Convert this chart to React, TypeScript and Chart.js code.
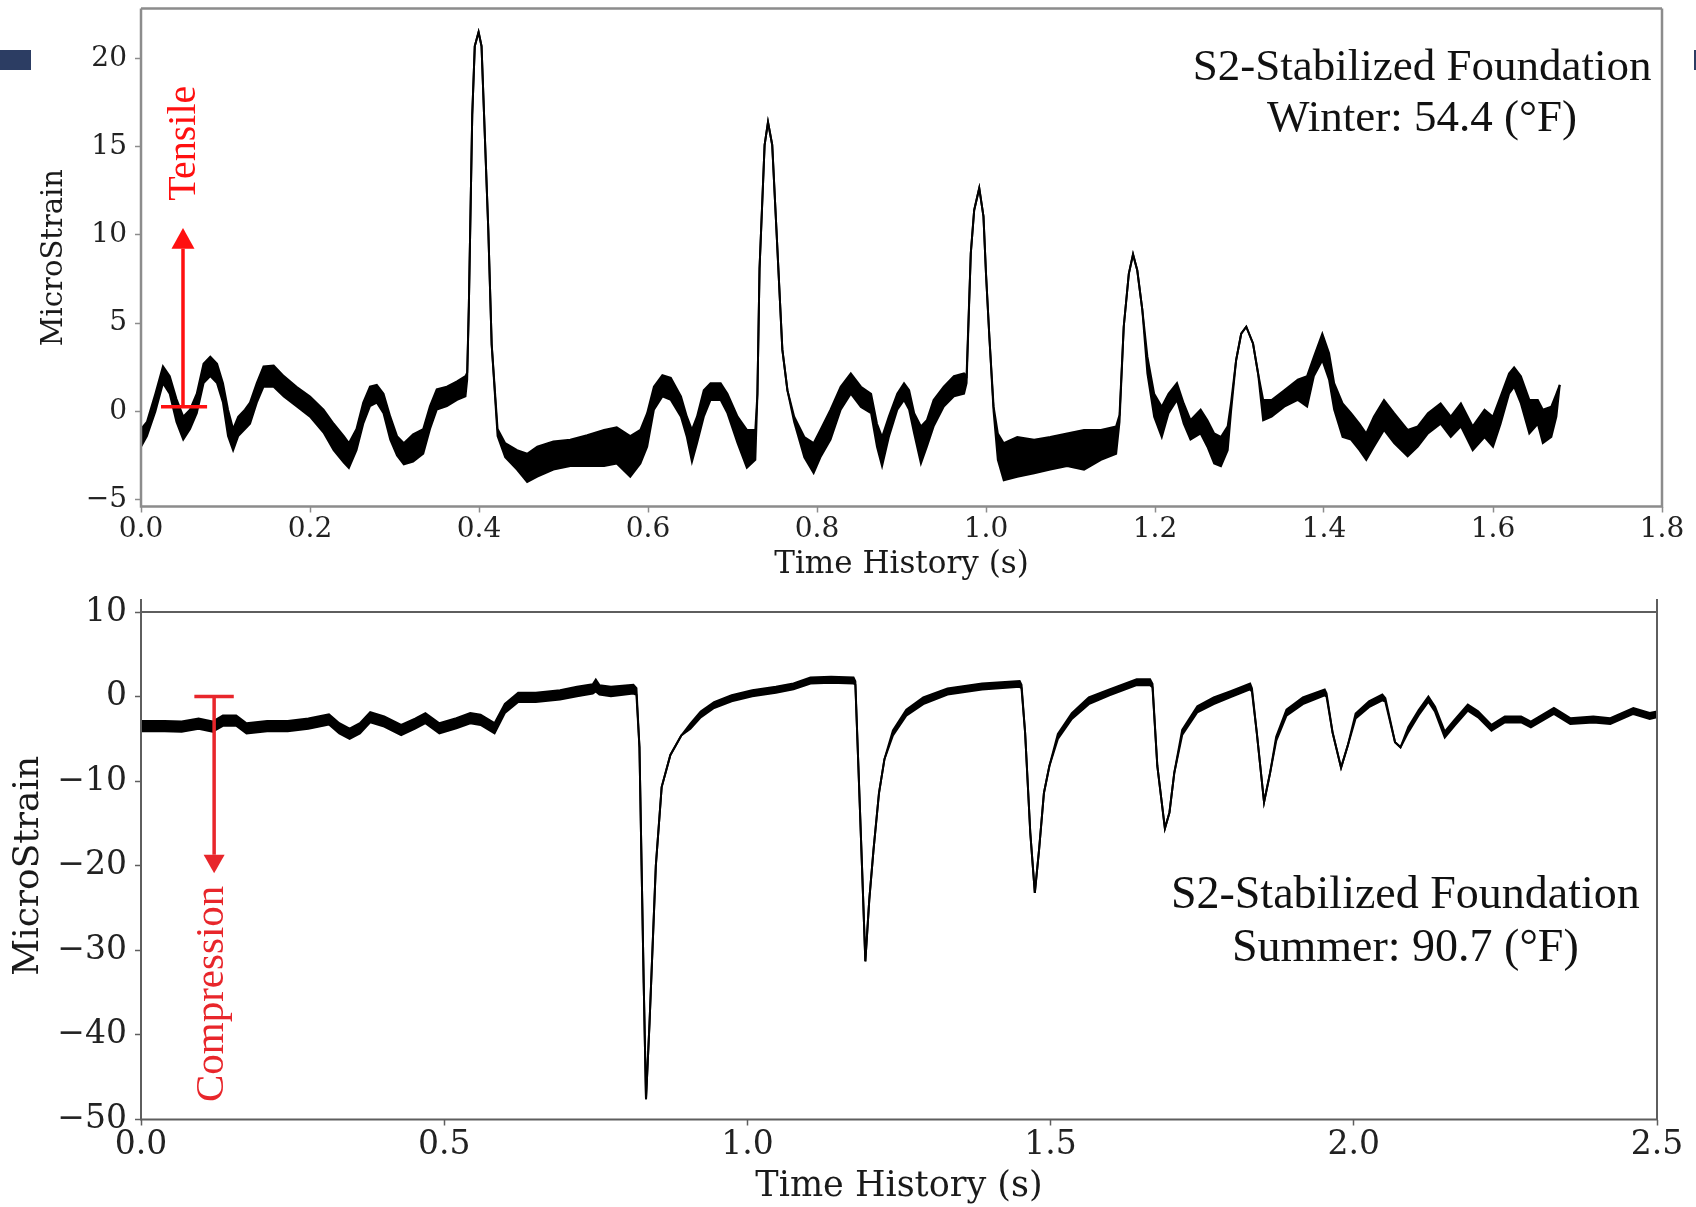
import React, { useEffect, useRef } from 'react';
import { Chart, registerables } from 'chart.js';

Chart.register(...registerables);

// ---------- Top panel (Winter) : envelope of the noisy strain trace ----------
const TOP_T = [
  0.000, 0.007, 0.017, 0.026, 0.034, 0.042, 0.050, 0.058, 0.066, 0.074, 0.082, 0.090, 0.097, 0.103, 0.109,
  0.115, 0.123, 0.129, 0.137, 0.145, 0.157, 0.169, 0.184, 0.200, 0.216, 0.228, 0.240, 0.246, 0.255, 0.263,
  0.271, 0.279, 0.287, 0.295, 0.303, 0.311, 0.322, 0.334, 0.342, 0.350, 0.362, 0.374, 0.384, 0.386, 0.388,
  0.392, 0.395, 0.3995, 0.403, 0.406, 0.411, 0.415, 0.422, 0.431, 0.445, 0.457, 0.469, 0.488, 0.508, 0.528,
  0.548, 0.563, 0.579, 0.591, 0.599, 0.607, 0.617, 0.627, 0.639, 0.646, 0.652, 0.658, 0.666, 0.674, 0.686,
  0.694, 0.706, 0.717, 0.727, 0.7295, 0.732, 0.738, 0.742, 0.747, 0.752, 0.759, 0.765, 0.773, 0.785, 0.796,
  0.804, 0.816, 0.828, 0.840, 0.852, 0.864, 0.871, 0.877, 0.885, 0.895, 0.903, 0.909, 0.915, 0.923, 0.930,
  0.938, 0.950, 0.962, 0.974, 0.977, 0.982, 0.986, 0.992, 0.997, 1.000, 1.004, 1.009, 1.014, 1.021, 1.037,
  1.057, 1.076, 1.096, 1.116, 1.136, 1.154, 1.158, 1.163, 1.169, 1.174, 1.179, 1.185, 1.191, 1.199, 1.208,
  1.216, 1.226, 1.234, 1.242, 1.254, 1.262, 1.270, 1.278, 1.286, 1.290, 1.296, 1.302, 1.308, 1.316, 1.322,
  1.328, 1.338, 1.353, 1.369, 1.380, 1.388, 1.398, 1.406, 1.412, 1.422, 1.432, 1.442, 1.450, 1.459, 1.471,
  1.483, 1.499, 1.511, 1.523, 1.538, 1.550, 1.562, 1.576, 1.590, 1.600, 1.609, 1.619, 1.625, 1.633, 1.643,
  1.653, 1.659, 1.669, 1.675, 1.679,
];
const TOP_HI = [
  -1.0, -0.6, 1.0, 2.55, 2.0, 0.7, -0.3, 0.1, 1.0, 2.7, 3.1, 2.7, 1.6, 0.1, -1.0,
  -0.3, 0.1, 0.5, 1.6, 2.55, 2.6, 2.0, 1.4, 0.85, 0.1, -0.7, -1.4, -1.8, -1.0, 0.5,
  1.4, 1.5, 1.0, -0.3, -1.4, -1.8, -1.3, -1.0, 0.3, 1.25, 1.4, 1.7, 2.0, 2.2, 6.0,
  16.8, 20.7, 21.5, 20.7, 16.8, 10.3, 3.8, -1.0, -1.8, -2.2, -2.4, -2.0, -1.7, -1.6, -1.35,
  -1.05, -0.9, -1.4, -1.05, -0.1, 1.4, 2.05, 1.9, 0.85, -0.3, -1.05, -0.3, 1.2, 1.6, 1.6,
  1.0, -0.3, -1.05, -1.05, 1.0, 8.1, 15.1, 16.4, 15.1, 10.3, 3.5, 1.2, -0.3, -1.45, -1.8,
  -1.05, 0.1, 1.4, 2.15, 1.4, 1.0, -0.7, -1.45, -0.3, 1.0, 1.6, 1.2, -0.1, -0.85, -0.5,
  0.65, 1.4, 2.0, 2.15, 2.0, 8.96, 11.4, 12.65, 11.05, 7.8, 4.2, 0.27, -1.25, -1.8, -1.45,
  -1.6, -1.45, -1.25, -1.05, -1.05, -0.85, -0.2, 4.8, 7.8, 8.9, 8.0, 5.75, 3.1, 1.0, 0.27,
  1.0, 1.6, 0.45, -0.5, 0.1, -0.5, -1.25, -1.45, -0.85, 0.5, 2.9, 4.4, 4.8, 3.85, 2.15,
  0.65, 0.65, 1.2, 1.8, 2.0, 3.1, 4.4, 3.3, 1.6, 0.45, -0.1, -0.7, -1.25, -0.3, 0.65,
  -0.1, -1.05, -0.85, -0.1, 0.45, -0.3, 0.45, -0.85, 0.1, -0.3, 0.85, 2.15, 2.5, 2.0, 0.65,
  0.65, 0.1, 0.27, 1.0, 1.5,
];
const TOP_LO = [
  -2.0, -1.4, 0.0, 1.6, 1.0, -0.6, -1.6, -1.0, -0.1, 1.6, 2.0, 1.6, 0.5, -1.4, -2.2,
  -1.4, -1.0, -0.7, 0.5, 1.4, 1.4, 0.85, 0.3, -0.3, -1.2, -2.2, -2.9, -3.2, -2.2, -0.7,
  0.3, 0.5, -0.1, -1.6, -2.5, -3.0, -2.85, -2.4, -1.0, 0.1, 0.3, 0.65, 0.85, 1.8, 6.0,
  16.8, 20.7, 21.5, 20.7, 16.8, 10.3, 3.8, -1.4, -2.6, -3.3, -4.0, -3.7, -3.3, -3.1, -3.1,
  -3.1, -2.95, -3.7, -2.95, -2.0, 0.1, 0.85, 0.65, -0.3, -1.45, -2.85, -1.8, -0.3, 0.65, 0.65,
  -0.1, -1.8, -3.2, -2.75, 1.0, 8.1, 15.1, 16.4, 15.1, 10.3, 3.5, 1.2, -0.6, -2.6, -3.5,
  -2.6, -1.6, 0.1, 1.0, 0.25, -0.1, -2.0, -3.1, -1.45, 0.1, 0.65, 0.1, -1.25, -2.95, -2.0,
  -0.85, 0.27, 0.85, 1.0, 1.6, 8.96, 11.4, 12.65, 11.05, 7.8, 4.2, 0.0, -2.75, -3.9, -3.7,
  -3.5, -3.3, -3.1, -3.3, -2.75, -2.4, -0.6, 4.8, 7.8, 8.9, 8.0, 5.75, 2.15, -0.3, -1.45,
  -0.1, 0.65, -0.7, -1.6, -1.25, -2.0, -2.95, -3.1, -2.2, 0.0, 2.9, 4.4, 4.8, 3.85, 2.15,
  -0.5, -0.3, 0.27, 0.65, 0.27, 2.0, 2.9, 1.8, 0.1, -1.45, -1.6, -2.2, -2.75, -2.0, -1.05,
  -1.8, -2.55, -2.0, -1.25, -0.7, -1.45, -0.85, -2.2, -1.45, -2.0, -0.7, 1.0, 1.4, 0.45, -1.25,
  -0.7, -1.8, -1.45, -0.3, 1.5,
];
const TOP_XTICKS = [0, 0.2, 0.4, 0.6, 0.8, 1.0, 1.2, 1.4, 1.6, 1.8];
const TOP_YTICKS = [-5, 0, 5, 10, 15, 20];
const TOP_NOTE = ['S2-Stabilized Foundation', 'Winter: 54.4 (°F)'];

// ---------- Bottom panel (Summer) ----------
const BOT_T = [
  0.000, 0.039, 0.067, 0.095, 0.118, 0.135, 0.157, 0.174, 0.208, 0.242, 0.276, 0.310, 0.327, 0.344, 0.361,
  0.378, 0.401, 0.429, 0.452, 0.469, 0.492, 0.520, 0.543, 0.560, 0.583, 0.600, 0.622, 0.651, 0.691, 0.719,
  0.745, 0.750, 0.756, 0.775, 0.812, 0.817, 0.822, 0.8255, 0.829, 0.8328, 0.8386, 0.8438, 0.849, 0.8586, 0.873,
  0.891, 0.906, 0.923, 0.945, 0.974, 1.008, 1.047, 1.076, 1.104, 1.138, 1.175, 1.178, 1.183, 1.189, 1.1945,
  1.201, 1.208, 1.217, 1.226, 1.240, 1.262, 1.290, 1.330, 1.387, 1.449, 1.452, 1.458, 1.4665, 1.474, 1.481,
  1.489, 1.498, 1.512, 1.535, 1.563, 1.597, 1.642, 1.664, 1.668, 1.676, 1.6885, 1.696, 1.704, 1.717, 1.742,
  1.769, 1.797, 1.829, 1.832, 1.840, 1.852, 1.862, 1.872, 1.889, 1.916, 1.952, 1.955, 1.965, 1.979, 1.990,
  2.003, 2.025, 2.047, 2.052, 2.068, 2.077, 2.090, 2.107, 2.123, 2.134, 2.150, 2.166, 2.188, 2.205, 2.227,
  2.249, 2.276, 2.292, 2.330, 2.357, 2.395, 2.423, 2.461, 2.488, 2.500,
];
const BOT_HI = [
  -2.9, -2.9, -2.95, -2.6, -2.95, -2.25, -2.25, -3.15, -2.9, -2.9, -2.6, -2.1, -3.15, -3.8, -3.15,
  -1.85, -2.35, -3.35, -2.6, -1.95, -3.15, -2.55, -1.95, -2.15, -3.15, -0.85, 0.45, 0.45, 0.75, 1.15,
  1.45, 2.0, 1.35, 1.15, 1.4, 1.0, -6.0, -20.0, -33.9, -47.6, -38.6, -29.3, -20.0, -10.7, -6.9,
  -4.6, -3.2, -1.75, -0.65, 0.15, 0.75, 1.15, 1.55, 2.25, 2.35, 2.25, 1.8, -8.2, -20.1, -31.3,
  -24.0, -18.1, -11.4, -7.4, -4.0, -1.55, -0.1, 0.95, 1.55, 1.85, 1.4, -4.3, -16.1, -23.2, -18.1,
  -11.4, -8.2, -4.4, -1.95, -0.1, 0.85, 2.05, 2.05, 1.5, -8.2, -15.6, -13.7, -9.0, -3.95, -1.15,
  -0.1, 0.65, 1.55, 1.0, -4.25, -12.5, -9.0, -4.75, -1.55, -0.1, 0.85, 0.4, -4.25, -8.4, -5.8,
  -2.0, -0.55, 0.25, -0.2, -5.4, -6.0, -3.6, -1.6, 0.0, -1.2, -4.15, -2.75, -0.95, -1.75, -3.35,
  -2.35, -2.35, -2.95, -1.35, -2.55, -2.35, -2.55, -1.35, -1.95, -1.75,
];
const BOT_LO = [
  -4.1, -4.1, -4.15, -3.8, -4.15, -3.45, -3.45, -4.35, -4.1, -4.1, -3.8, -3.3, -4.35, -5.0, -4.35,
  -3.05, -3.55, -4.55, -3.8, -3.15, -4.35, -3.75, -3.15, -3.35, -4.35, -1.95, -0.65, -0.65, -0.35, 0.05,
  0.35, 0.6, 0.25, 0.05, 0.35, 0.2, -6.0, -20.0, -33.9, -47.6, -38.6, -29.3, -20.0, -10.7, -6.9,
  -4.6, -3.8, -2.45, -1.35, -0.55, 0.05, 0.45, 0.85, 1.55, 1.65, 1.55, 1.4, -8.2, -20.1, -31.3,
  -24.0, -18.1, -11.4, -7.4, -4.6, -2.25, -0.9, 0.25, 0.85, 1.15, 1.0, -4.3, -16.1, -23.2, -18.1,
  -11.4, -8.2, -5.0, -2.65, -0.9, 0.15, 1.35, 1.35, 1.1, -8.2, -15.6, -13.7, -9.0, -4.55, -1.85,
  -0.9, -0.05, 0.85, 0.6, -4.25, -12.5, -9.0, -5.25, -2.25, -0.9, 0.15, 0.0, -4.25, -8.4, -5.8,
  -2.6, -1.25, -0.45, -0.6, -5.4, -6.0, -4.2, -2.2, -0.6, -1.8, -4.85, -3.45, -1.65, -2.45, -4.05,
  -3.05, -3.05, -3.65, -2.05, -3.25, -3.05, -3.25, -2.05, -2.65, -2.45,
];
const BOT_XTICKS = [0, 0.5, 1.0, 1.5, 2.0, 2.5];
const BOT_YTICKS = [-50, -40, -30, -20, -10, 0, 10];
const BOT_NOTE = ['S2-Stabilized Foundation', 'Summer: 90.7 (°F)'];

const fmtY = (v: number) => (v < 0 ? '\u2212' + Math.abs(v) : String(v));

type Panel = {
  t: number[]; hi: number[]; lo: number[];
  xMin: number; xMax: number; yMin: number; yMax: number;
  xTicks: number[]; yTicks: number[];
  padTop: number; padRight: number; yAxisW: number; xAxisH: number;
  tickSize: number; xTitleSize: number; xTitleLH: number; xTitlePad: number; yTitleSize: number; yTitlePad: number;
  frameColor: string; frameWidth: number; spineExt: number;
  note: string[]; noteX: number; noteY: number[]; noteSize: number;
  arrow: { x: number; y0: number; tip: number; base: number; barFrom: number; barTo: number; half: number; lw: number; color: string;
    label: string; lx: number; ly: number; lsize: number };
};

function decorPlugin(p: Panel) {
  return {
    id: 'decor',
    afterDatasetsDraw(chart: any) {
      const { ctx, chartArea: a, scales } = chart;
      const x = scales.x, y = scales.y;
      ctx.save();
      // frame (spines)
      ctx.strokeStyle = p.frameColor;
      ctx.lineWidth = p.frameWidth;
      ctx.beginPath();
      ctx.moveTo(a.left, a.top - p.spineExt); ctx.lineTo(a.left, a.bottom);
      ctx.lineTo(a.right, a.bottom); ctx.lineTo(a.right, a.top - p.spineExt);
      ctx.moveTo(a.left, a.top); ctx.lineTo(a.right, a.top);
      ctx.stroke();
      // red arrow annotation
      const ar = p.arrow;
      const ax = x.getPixelForValue(ar.x);
      const yb = y.getPixelForValue(ar.y0);
      const yt = y.getPixelForValue(ar.tip);
      const yh = y.getPixelForValue(ar.base);
      ctx.strokeStyle = ar.color;
      ctx.fillStyle = ar.color;
      ctx.lineWidth = ar.lw;
      ctx.beginPath();
      ctx.moveTo(ax, yb); ctx.lineTo(ax, yh);
      ctx.moveTo(x.getPixelForValue(ar.barFrom), yb); ctx.lineTo(x.getPixelForValue(ar.barTo), yb);
      ctx.stroke();
      ctx.beginPath();
      ctx.moveTo(ax, yt); ctx.lineTo(ax - ar.half, yh); ctx.lineTo(ax + ar.half, yh); ctx.closePath();
      ctx.fill();
      ctx.save();
      ctx.translate(x.getPixelForValue(ar.lx), y.getPixelForValue(ar.ly));
      ctx.rotate(-Math.PI / 2);
      ctx.font = `${ar.lsize}px "Liberation Serif"`;
      ctx.textAlign = 'center';
      ctx.textBaseline = 'middle';
      ctx.fillText(ar.label, 0, 0);
      ctx.restore();
      // panel note
      ctx.fillStyle = '#111';
      ctx.font = `${p.noteSize}px "Liberation Serif"`;
      ctx.textAlign = 'center';
      ctx.textBaseline = 'middle';
      p.note.forEach((s, i) => ctx.fillText(s, x.getPixelForValue(p.noteX), y.getPixelForValue(p.noteY[i])));
      ctx.restore();
    },
  };
}

function makeConfig(p: Panel): any {
  const grid = { display: true, drawOnChartArea: false, drawTicks: true, tickLength: 6, tickWidth: 1.5, tickColor: p.frameColor };
  return {
    type: 'line',
    data: {
      datasets: [
        { data: p.t.map((t, i) => ({ x: t, y: p.hi[i] })), borderColor: '#000', borderWidth: 2, pointRadius: 0, fill: false, tension: 0 },
        { data: p.t.map((t, i) => ({ x: t, y: p.lo[i] })), borderColor: '#000', borderWidth: 2, pointRadius: 0, fill: '-1', backgroundColor: '#000', tension: 0 },
      ],
    },
    options: {
      responsive: false,
      animation: false,
      events: [],
      layout: { padding: { left: 0, right: p.padRight, top: p.padTop, bottom: 0 } },
      plugins: { legend: { display: false }, tooltip: { enabled: false } },
      scales: {
        x: {
          type: 'linear', min: p.xMin, max: p.xMax,
          afterBuildTicks: (s: any) => { s.ticks = p.xTicks.map((v) => ({ value: v })); },
          afterFit: (s: any) => { s.height = p.xAxisH; s.paddingLeft = 0; s.paddingRight = 0; },
          ticks: { autoSkip: false, maxRotation: 0, padding: 0, color: '#222',
            font: { family: 'DejaVu Serif', size: p.tickSize, lineHeight: 1.2 },
            callback: (v: any) => Number(v).toFixed(1) },
          grid, border: { display: false },
          title: { display: true, text: 'Time History (s)', color: '#1a1a1a',
            font: { family: 'DejaVu Serif', size: p.xTitleSize, lineHeight: p.xTitleLH }, padding: { top: 0, bottom: p.xTitlePad } },
        },
        y: {
          type: 'linear', min: p.yMin, max: p.yMax,
          afterBuildTicks: (s: any) => { s.ticks = p.yTicks.map((v) => ({ value: v })); },
          afterFit: (s: any) => { s.width = p.yAxisW; s.paddingTop = 0; s.paddingBottom = 0; },
          ticks: { autoSkip: false, padding: 8, color: '#222',
            font: { family: 'DejaVu Serif', size: p.tickSize, lineHeight: 1.2 },
            callback: (v: any) => fmtY(Number(v)) },
          grid, border: { display: false },
          title: { display: true, text: 'MicroStrain', color: '#1a1a1a',
            font: { family: 'DejaVu Serif', size: p.yTitleSize, lineHeight: 1.2 }, padding: { top: p.yTitlePad, bottom: 0 } },
        },
      },
    },
    plugins: [decorPlugin(p)],
  };
}

const TOP_PANEL: Panel = {
  t: TOP_T, hi: TOP_HI, lo: TOP_LO,
  xMin: 0, xMax: 1.8, yMin: -5.39, yMax: 22.83,
  xTicks: TOP_XTICKS, yTicks: TOP_YTICKS,
  padTop: 8.6, padRight: 34, yAxisW: 141, xAxisH: 83.5,
  tickSize: 28, xTitleSize: 31, xTitleLH: 1.2, xTitlePad: 6, yTitleSize: 29, yTitlePad: 37,
  frameColor: '#8c8c8c', frameWidth: 2.5, spineExt: 0,
  note: TOP_NOTE, noteX: 1.516, noteY: [19.46, 16.57], noteSize: 45,
  arrow: { x: 0.0497, y0: 0.26, tip: 10.4, base: 9.22, barFrom: 0.0237, barTo: 0.0782, half: 11.5, lw: 3.5, color: '#ff1010',
    label: 'Tensile', lx: 0.052, ly: 15.2, lsize: 40 },
};

const BOT_PANEL: Panel = {
  t: BOT_T, hi: BOT_HI, lo: BOT_LO,
  xMin: 0, xMax: 2.5, yMin: -50, yMax: 10,
  xTicks: BOT_XTICKS, yTicks: BOT_YTICKS,
  padTop: 22, padRight: 39, yAxisW: 141, xAxisH: 87.5,
  tickSize: 33, xTitleSize: 35, xTitleLH: 1.0, xTitlePad: 3, yTitleSize: 36, yTitlePad: 7.4,
  frameColor: '#5e5e5e', frameWidth: 2, spineExt: 13,
  note: BOT_NOTE, noteX: 2.085, noteY: [-23.57, -29.79], noteSize: 46,
  arrow: { x: 0.1206, y0: 0, tip: -20.9, base: -18.7, barFrom: 0.088, barTo: 0.153, half: 10.5, lw: 3.5, color: '#e8262b',
    label: 'Compression', lx: 0.118, ly: -35.15, lsize: 41 },
};

export default function App() {
  const topRef = useRef<HTMLCanvasElement>(null);
  const botRef = useRef<HTMLCanvasElement>(null);

  useEffect(() => {
    const c1 = new Chart(topRef.current as HTMLCanvasElement, makeConfig(TOP_PANEL));
    const c2 = new Chart(botRef.current as HTMLCanvasElement, makeConfig(BOT_PANEL));
    return () => { c1.destroy(); c2.destroy(); };
  }, []);

  return (
    <div style={{ position: 'absolute', left: 0, top: 0, width: 1696, height: 1207, background: '#fff', overflow: 'hidden' }}>
      <canvas ref={topRef} width={1696} height={590}
        style={{ position: 'absolute', left: 0, top: 0, width: '1696px', height: '590px' }} />
      <canvas ref={botRef} width={1696} height={617}
        style={{ position: 'absolute', left: 0, top: 590, width: '1696px', height: '617px' }} />
      <div style={{ position: 'absolute', left: 0, top: 50, width: 31, height: 20, background: '#2c3d63' }} />
      <div style={{ position: 'absolute', left: 1694, top: 50, width: 2, height: 20, background: '#2c3d63' }} />
    </div>
  );
}
